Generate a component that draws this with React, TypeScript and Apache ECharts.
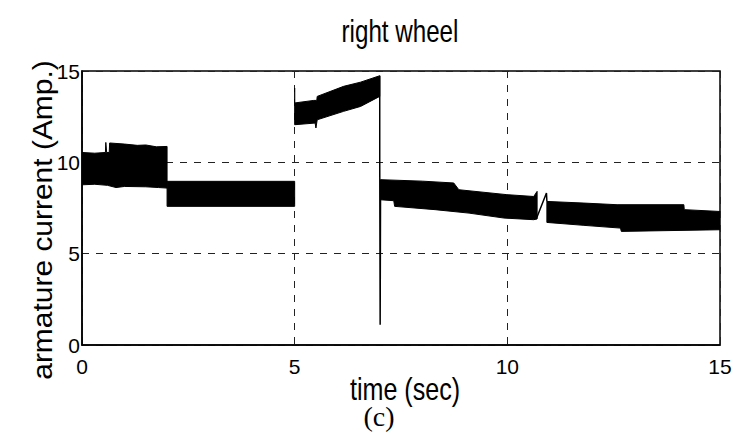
import React, { useEffect, useRef } from "react";
import * as echarts from "echarts";

// Axis ranges and ticks
const xTicks = [0, 5, 10, 15];
const yTicks = [0, 5, 10, 15];

// Envelope of the armature current ripple band, [time (s), current (A)]
const upperA = [[0, 10.54], [0.3, 10.5], [0.55, 10.54], [0.56, 11.09], [0.58, 10.54], [0.64, 10.54], [0.65, 11.06], [1.0, 11.0], [1.3, 10.93], [1.5, 10.95], [1.75, 10.85], [2.0, 10.87]];
const lowerA = [[0, 8.77], [0.3, 8.8], [0.6, 8.74], [0.8, 8.62], [1.0, 8.68], [1.5, 8.66], [1.8, 8.62], [2.0, 8.59]];

const upperB = [[2.0, 8.96], [5.0, 8.96]];
const lowerB = [[2.0, 7.59], [5.0, 7.59]];

const upperC = [[5.0, 13.25], [5.45, 13.39], [5.52, 13.39], [5.53, 13.61], [6.15, 14.16], [6.55, 14.39], [7.0, 14.74]];
const lowerC = [[5.0, 12.06], [5.48, 12.15], [5.5, 11.88], [5.53, 12.33], [6.15, 12.79], [6.55, 13.06], [7.0, 13.61]];

const upperD = [[7.02, 9.05], [8.0, 8.97], [8.74, 8.87], [8.86, 8.5], [9.99, 8.23], [10.62, 8.13], [10.7, 8.41]];
const lowerD = [[7.02, 7.95], [7.33, 7.9], [7.35, 7.59], [8.3, 7.41], [9.1, 7.22], [9.92, 6.95], [10.62, 6.86], [10.7, 6.9]];

const upperE = [[10.93, 7.86], [11.8, 7.77], [12.58, 7.68], [14.15, 7.68], [14.16, 7.41], [15, 7.31]];
const lowerE = [[10.93, 6.71], [11.8, 6.55], [12.66, 6.4], [12.68, 6.22], [15, 6.31]];

// Thin transient traces
const stepAt5 = [[5.0, 13.25], [5.0, 14.07]];
const spikeAt7 = [[7.0, 14.74], [7.0, 10.2], [7.01, 10.2], [7.01, 1.11], [7.02, 1.11], [7.02, 9.05]];
const rampAt11 = [[10.68, 6.9], [10.92, 8.32], [10.93, 7.86]];

const bands = [
  { upper: upperA, lower: lowerA },
  { upper: upperB, lower: lowerB },
  { upper: upperC, lower: lowerC },
  { upper: upperD, lower: lowerD },
  { upper: upperE, lower: lowerE },
];

const sans = "'Liberation Sans', Arial, sans-serif";

export default function App() {
  const ref = useRef<HTMLDivElement>(null);

  useEffect(() => {
    if (!ref.current) return;
    const chart = echarts.init(ref.current, null, { renderer: "svg" });

    const thin = (data: number[][], width: number) => ({
      type: "line",
      data,
      showSymbol: false,
      symbol: "none",
      lineStyle: { color: "#000", width },
      z: 4,
    });

    chart.setOption({
      animation: false,
      backgroundColor: "#fff",
      grid: {
        left: 82,
        right: 36,
        top: 71,
        bottom: 95,
        show: true,
        borderColor: "#000",
        borderWidth: 1.5,
        backgroundColor: "transparent",
      },
      xAxis: {
        type: "value",
        min: xTicks[0],
        max: xTicks[xTicks.length - 1],
        interval: 5,
        axisLine: { show: true, onZero: false, lineStyle: { color: "#000", width: 1.5 } },
        axisTick: { show: false },
        axisLabel: { color: "#000", fontSize: 21, fontFamily: sans, margin: 11 },
        splitLine: { show: true, lineStyle: { color: "#222", width: 1, type: [7, 7] } },
      },
      yAxis: {
        type: "value",
        min: yTicks[0],
        max: yTicks[yTicks.length - 1],
        interval: 5,
        axisLine: { show: true, lineStyle: { color: "#000", width: 1.5 } },
        axisTick: { show: false },
        axisLabel: { color: "#000", fontSize: 21, fontFamily: sans, margin: 2 },
        splitLine: { show: true, lineStyle: { color: "#222", width: 1, type: [7, 7] } },
      },
      graphic: [
        {
          type: "text",
          x: 400,
          y: 31,
          scaleX: 0.78,
          style: { text: "right wheel", fontSize: 31, fontFamily: sans, fill: "#000", textAlign: "center", textVerticalAlign: "middle" },
        },
        {
          type: "text",
          x: 405,
          y: 389,
          scaleX: 0.81,
          style: { text: "time (sec)", fontSize: 31, fontFamily: sans, fill: "#000", textAlign: "center", textVerticalAlign: "middle" },
        },
        {
          type: "text",
          x: 379,
          y: 416,
          style: { text: "(c)", fontSize: 28, fontFamily: "'Liberation Serif', 'DejaVu Serif', serif", fill: "#000", textAlign: "center", textVerticalAlign: "middle" },
        },
        {
          type: "text",
          x: 42,
          y: 220,
          rotation: Math.PI / 2,
          scaleX: 1.07,
          style: { text: "armature current (Amp.)", fontSize: 28, fontFamily: sans, fill: "#000", textAlign: "center", textVerticalAlign: "middle" },
        },
      ],
      series: [
        {
          type: "custom",
          clip: true,
          z: 3,
          data: bands.map((b) => [b.upper[0][0], b.upper[0][1]]),
          renderItem: (params: any, api: any) => {
            const seg = bands[params.dataIndex];
            const pts = seg.upper
              .map((p) => api.coord(p))
              .concat(seg.lower.slice().reverse().map((p) => api.coord(p)));
            return {
              type: "polygon",
              shape: { points: pts },
              style: { fill: "#000", stroke: "#000", lineWidth: 1 },
            };
          },
        },
        thin(stepAt5, 1.2),
        thin(spikeAt7, 1.5),
        thin(rampAt11, 1.5),
      ],
    });

    return () => chart.dispose();
  }, []);

  return <div ref={ref} style={{ position: "fixed", left: 0, top: 0, width: 756, height: 440 }} />;
}
